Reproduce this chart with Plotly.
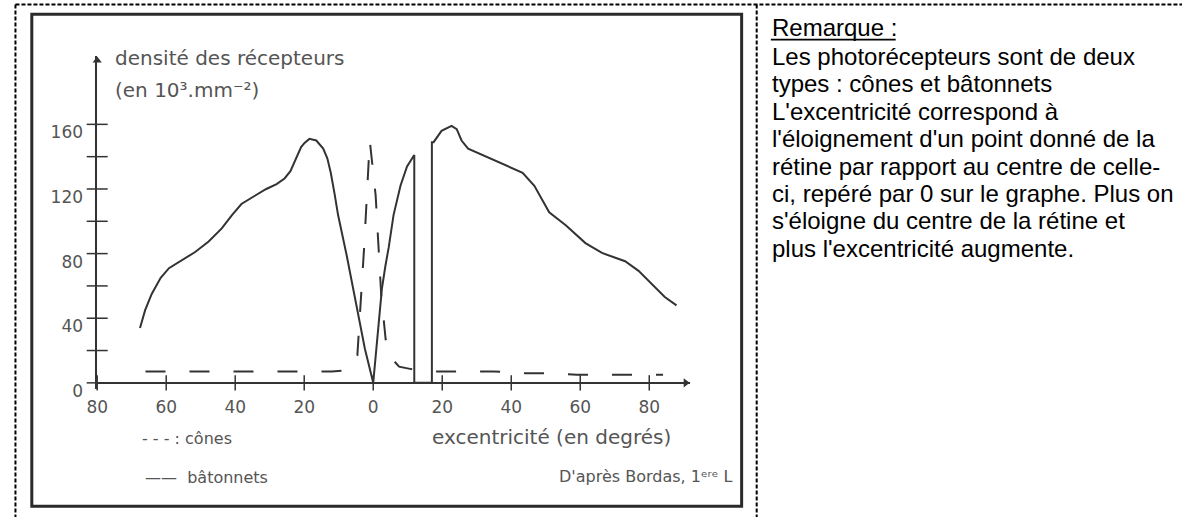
import plotly.graph_objects as go

# ---------------- data ----------------
# bâtonnets (rods) : solid curve, excentricité (°) / densité (10^3 mm^-2)
rods_x = [-67.6, -66.1, -64.2, -61.6, -59.2, -55.4, -51.6, -47.7, -43.9, -41.0,
          -38.2, -34.3, -31.0, -28.0, -25.7, -24.0, -22.8, -20.9, -19.9, -18.5,
          -16.5, -14.5, -13.3, -12.3, -11.2, -10.2, -7.7, -5.8, -4.3, -2.4,
          0.0, 1.2, 2.5, 3.5, 4.5, 5.9, 7.9, 9.8, 11.9, 11.9,
          17.0, 17.0, 17.5, 19.8, 22.7, 24.2, 25.6, 27.5, 32.8, 39.5,
          43.3, 46.7, 49.1, 51.0, 55.8, 61.5, 66.3, 73.0, 76.9, 80.7,
          84.5, 87.9]
rods_y = [34, 45, 55, 65, 71, 76, 81, 87.5, 95.6, 103.6,
          110.7, 115.8, 120, 123, 126.5, 131, 137, 146, 148.5, 151,
          150, 145, 139, 130, 117, 104, 79, 59, 41, 21,
          0, 30, 58, 72, 84, 104, 122, 134, 141, 0,
          0, 149, 149, 156, 159, 157, 150, 145, 140, 134,
          130, 122, 113, 105.6, 97.6, 86.5, 80.4, 75.3, 69.3, 61.2,
          53.1, 48]

# cônes (cones) : dashed curve
cones_x = [-66, -40, -12, -7, -4.6, -2.6, -1.0, 0.7, 1.6, 2.3,
           3.6, 4.6, 7.5, 11, 18, 35, 44, 52, 59, 84]
cones_y = [7, 7, 7, 8, 17, 85, 150, 116, 84, 55,
           27, 17, 10, 8.5, 7, 7, 6, 6, 5, 5]

x_tick_vals = [-80, -60, -40, -20, 0, 20, 40, 60, 80]
x_tick_text = ["80", "60", "40", "20", "0", "20", "40", "60", "80"]
y_tick_vals = [0, 40, 80, 120, 160]
y_tick_text = ["0", "40", "80", "120", "160"]
y_all_ticks = [0, 20, 40, 60, 80, 100, 120, 140, 160]

remark_title = "Remarque :"
remark_lines = [
    "Les photorécepteurs sont de deux",
    "types : cônes et bâtonnets",
    "L'excentricité correspond à",
    "l'éloignement d'un point donné de la",
    "rétine par rapport au centre de celle-",
    "ci, repéré par 0 sur le graphe. Plus on",
    "s'éloigne du centre de la rétine et",
    "plus l'excentricité augmente.",
]

# ---------------- layout helpers ----------------
W, H = 1182, 528
def px(x):
    return x / W
def py(y):
    return 1 - y / H

X0, X1 = 87, 685      # plot area pixel extent (x)
Y0, Y1 = 57.7, 397.6  # plot area pixel extent (y)
X_RANGE = [-80, 91.7]
Y_RANGE = [-4, 202]

INK = "#333333"
GREY = "#555555"
CHART_FONT = "DejaVu Sans"
NOTE_FONT = "Liberation Sans, Arial"

fig = go.Figure()

fig.add_trace(go.Scatter(
    x=rods_x, y=rods_y, mode="lines", name="bâtonnets",
    line=dict(color=INK, width=2), hoverinfo="skip"))

fig.add_trace(go.Scatter(
    x=cones_x, y=cones_y, mode="lines", name="cônes",
    line=dict(color=INK, width=2, dash="20px,24px"), hoverinfo="skip"))

# crossing tick marks on both axes
fig.add_trace(go.Scatter(
    x=[X_RANGE[0]] * len(y_all_ticks), y=y_all_ticks, mode="markers",
    marker=dict(symbol="line-ew", size=15, line=dict(color=INK, width=1.5)),
    cliponaxis=False, hoverinfo="skip", showlegend=False))
fig.add_trace(go.Scatter(
    x=x_tick_vals, y=[0] * len(x_tick_vals), mode="markers",
    marker=dict(symbol="line-ns", size=11, line=dict(color=INK, width=1.5)),
    cliponaxis=False, hoverinfo="skip", showlegend=False))

# axis arrow heads (at the ends of the axes)
px_per_x = (X1 - X0) / (X_RANGE[1] - X_RANGE[0])
px_per_y = (Y1 - Y0) / (Y_RANGE[1] - Y_RANGE[0])
fig.add_trace(go.Scatter(
    x=[X_RANGE[0]], y=[Y_RANGE[1] - 4 / px_per_y], mode="markers",
    marker=dict(symbol="triangle-up", size=8, color=INK),
    cliponaxis=False, hoverinfo="skip", showlegend=False))
fig.add_trace(go.Scatter(
    x=[X_RANGE[1] - 4 / px_per_x], y=[0], mode="markers",
    marker=dict(symbol="triangle-right", size=8, color=INK),
    cliponaxis=False, hoverinfo="skip", showlegend=False))

fig.update_layout(
    width=W, height=H, autosize=False,
    margin=dict(l=0, r=0, t=0, b=0),
    paper_bgcolor="white", plot_bgcolor="white",
    showlegend=False,
    xaxis=dict(
        domain=[px(X0), px(X1)], range=X_RANGE,
        showgrid=False, zeroline=False, showline=False,
        tickvals=x_tick_vals, ticktext=x_tick_text, ticks="",
        ticklabelstandoff=6,
        tickfont=dict(family=CHART_FONT, size=17, color=GREY),
        fixedrange=True),
    yaxis=dict(
        domain=[py(Y1), py(Y0)], range=Y_RANGE,
        showgrid=False, zeroline=True, zerolinecolor=INK, zerolinewidth=1.5,
        showline=True, linecolor=INK, linewidth=1.5,
        tickvals=y_tick_vals, ticktext=y_tick_text, ticks="",
        ticklabelstandoff=9, ticklabelshift=8,
        tickfont=dict(family=CHART_FONT, size=17, color=GREY),
        fixedrange=True),
)

annotations = []

def txt(text, x, y, xanchor="left", size=20, color=GREY, family=CHART_FONT):
    annotations.append(dict(text=text, x=px(x), y=py(y), xref="paper", yref="paper",
                            xanchor=xanchor, yanchor="middle", showarrow=False,
                            font=dict(family=family, size=size, color=color)))

txt("densité des récepteurs", 103, 59)
txt("(en 10³.mm⁻²)", 103, 92)
txt("excentricité (en degrés)", 546, 446, xanchor="center")
txt("- - - : cônes", 130, 448, size=16)
txt("——  bâtonnets", 133, 488, size=16)
txt("D'après Bordas, 1ᵉʳᵉ L", 730, 487, xanchor="right", size=16)

note_baselines = [36, 66, 94, 122, 150, 178, 206, 234, 262]
txt(remark_title, 766, note_baselines[0] - 8.3, size=24, color="black", family=NOTE_FONT)
for line, b in zip(remark_lines, note_baselines[1:]):
    txt(line, 766, b - 8.3, size=24, color="black", family=NOTE_FONT)

fig.update_layout(annotations=annotations)

# frames: outer dashed table borders, inner solid box, underline of the note title
shapes = []
dash = "4px,2px"
shapes.append(dict(type="line", xref="paper", yref="paper",
                   x0=px(4.5), x1=px(W), y0=py(4.5), y1=py(4.5),
                   line=dict(color="black", width=2, dash=dash)))
shapes.append(dict(type="line", xref="paper", yref="paper",
                   x0=px(4.5), x1=px(4.5), y0=py(4.5), y1=py(H),
                   line=dict(color="black", width=2, dash=dash)))
shapes.append(dict(type="line", xref="paper", yref="paper",
                   x0=px(752.7), x1=px(752.7), y0=py(4.5), y1=py(H),
                   line=dict(color="black", width=2, dash=dash)))
shapes.append(dict(type="rect", xref="paper", yref="paper",
                   x0=px(21), x1=px(737.5), y0=py(517), y1=py(14.5),
                   line=dict(color="#2a2a2a", width=3)))
shapes.append(dict(type="line", xref="paper", yref="paper",
                   x0=px(767), x1=px(893), y0=py(40.5), y1=py(40.5),
                   line=dict(color="black", width=1.6)))
fig.update_layout(shapes=shapes)

fig.write_html(
    "out.html",
    config={"displayModeBar": False},
    post_script="document.body.style.margin='0px';document.body.style.overflow='hidden';",
)
